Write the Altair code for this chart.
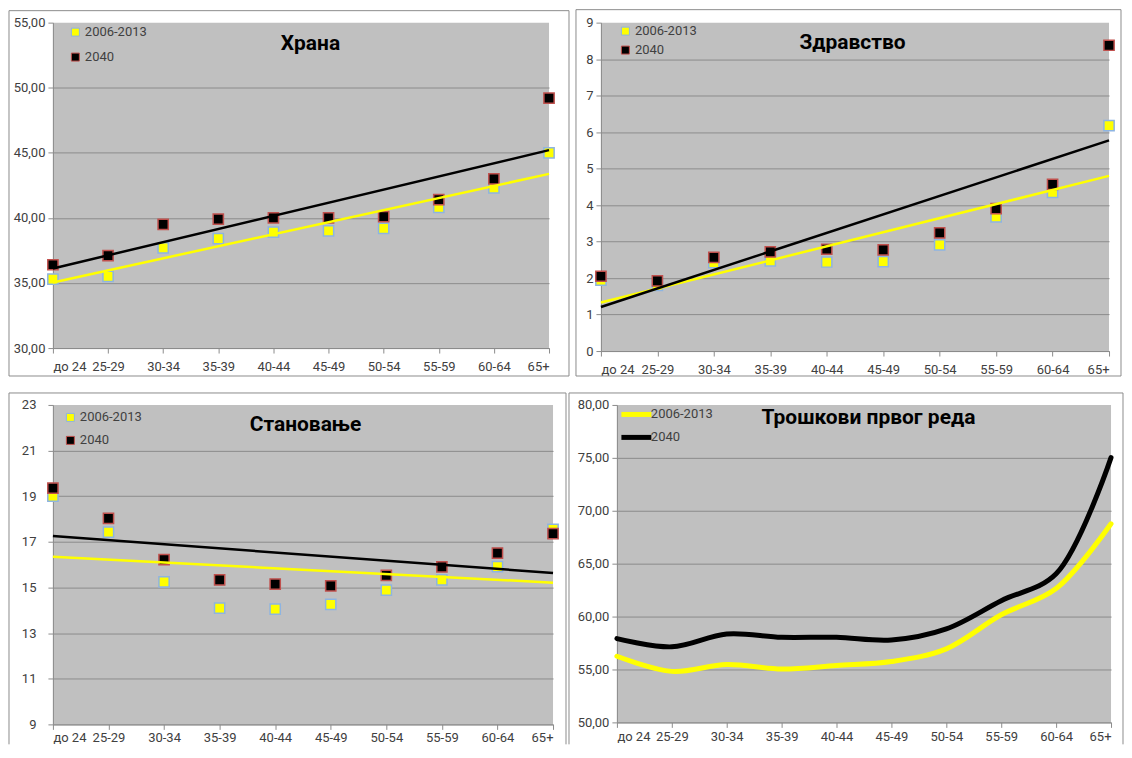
import json
import altair as alt
import pandas as pd

# ---------------- data ----------------
ages = ["до 24", "25-29", "30-34", "35-39", "40-44", "45-49", "50-54", "55-59", "60-64", "65+"]
series_names = ["2006-2013", "2040"]

hrana_2013 = [35.3, 35.5, 37.7, 38.4, 38.9, 39.0, 39.2, 40.8, 42.3, 45.0]
hrana_2040 = [36.4, 37.1, 39.5, 39.9, 40.0, 40.0, 40.1, 41.4, 43.0, 49.2]

zdr_2013 = [1.94, 1.80, 2.42, 2.47, 2.44, 2.45, 2.91, 3.68, 4.35, 6.18]
zdr_2040 = [2.05, 1.92, 2.57, 2.72, 2.79, 2.77, 3.24, 3.90, 4.57, 8.38]

stan_2013 = [19.00, 17.43, 15.25, 14.10, 14.05, 14.26, 14.88, 15.33, 15.91, 17.55]
stan_2040 = [19.35, 18.03, 16.22, 15.33, 15.15, 15.07, 15.53, 15.90, 16.51, 17.36]

tros_2013 = [56.25, 54.82, 55.47, 55.04, 55.38, 55.75, 56.95, 60.17, 62.65, 68.77]
tros_2040 = [57.92, 57.14, 58.35, 58.04, 58.04, 57.79, 58.84, 61.50, 64.04, 75.02]

titles = ["Храна", "Здравство", "Становање", "Трошкови првог реда"]

# ---------------- style ----------------
FONT = "Roboto"
YELLOW = "#FFFF00"
BLACK = "#000000"
FRAME = "#8C8C8C"
TEXT = "#404040"

x_label_expr = json.dumps(ages, ensure_ascii=False) + "[datum.value]"
comma_expr = "replace(format(datum.value, '.2f'), '.', ',')"


def make_df(a, b):
    rows = []
    for name, vals in zip(series_names, (a, b)):
        for i, v in enumerate(vals):
            rows.append({"idx": i, "age": ages[i], "series": name, "value": v})
    return pd.DataFrame(rows)


def axes(ydomain, yticks, ylabel_expr, label_pad_x=7, label_pad_y=3):
    x = alt.X("idx:Q",
              scale=alt.Scale(domain=[0, 9], nice=False, zero=False),
              axis=alt.Axis(values=list(range(10)), labelExpr=x_label_expr, title=None,
                            grid=False, labelPadding=label_pad_x))
    y = alt.Y("value:Q",
              scale=alt.Scale(domain=ydomain, nice=False, zero=False),
              axis=alt.Axis(values=yticks, labelExpr=ylabel_expr, title=None, grid=True,
                            labelPadding=label_pad_y,
                            gridOpacity={"condition": {"test": f"datum.value >= {ydomain[1]}", "value": 0},
                                         "value": 1}))
    return x, y


def frame_layers(x1, x2, y1, y2, bottom=True):
    src = alt.Data(values=[{"f": 1}])
    segs = [(x1, x2, y1, y1), (x1, x1, y1, y2), (x2, x2, y1, y2)]
    if bottom:
        segs.append((x1, x2, y2, y2))
    out = []
    for a, b, c, d in segs:
        out.append(alt.Chart(src).mark_rule(stroke=FRAME, strokeWidth=1, clip=False).encode(
            x=alt.value(a), x2=alt.value(b), y=alt.value(c), y2=alt.value(d)))
    return out


def title_layer(text, tx, ty):
    return alt.Chart(alt.Data(values=[{"t": text}])).mark_text(
        font=FONT, fontSize=21, fontWeight="bold", color=BLACK, align="center", baseline="middle"
    ).encode(x=alt.value(tx), y=alt.value(ty), text="t:N")


def scatter_panel(title, a, b, w, h, ydomain, yticks, ylabel_expr, frame, tpos, lpos, rowpad,
                  lpad=7, ypad=3, bottom=True):
    df = make_df(a, b)
    base = alt.Chart(df)
    x, y = axes(ydomain, yticks, ylabel_expr, lpad, ypad)
    leg = alt.Legend(orient="none", legendX=lpos[0], legendY=lpos[1], title=None,
                     symbolType="square", symbolSize=64, symbolStrokeWidth=1,
                     rowPadding=rowpad, labelOffset=3, labelFont=FONT, labelFontSize=13,
                     labelColor=TEXT, padding=0)
    points = base.mark_square(filled=True, size=105, strokeWidth=1.5, opacity=1).encode(
        x=x, y=y,
        color=alt.Color("series:N", scale=alt.Scale(domain=series_names, range=[YELLOW, BLACK]), legend=leg),
        stroke=alt.Stroke("series:N", scale=alt.Scale(domain=series_names, range=["#8DB4E2", "#C0504D"]),
                          legend=leg),
    )
    trends = []
    for name, col in zip(series_names, (YELLOW, BLACK)):
        trends.append(
            base.transform_filter(alt.datum.series == name)
            .transform_regression("idx", "value", extent=[0, 9])
            .mark_line(color=col, strokeWidth=2.5)
            .encode(x=x, y=y)
        )
    return alt.layer(*frame_layers(*frame, bottom=bottom), points, *trends,
                     title_layer(title, *tpos)).properties(width=w, height=h)


def line_panel(title, a, b, w, h, frame, tpos, lpos, rowpad, lpad=3, bottom=False):
    df = make_df(a, b)
    x, y = axes([50, 80], [50, 55, 60, 65, 70, 75, 80], comma_expr, lpad)
    leg = alt.Legend(orient="none", legendX=lpos[0], legendY=lpos[1], title=None,
                     symbolType="M-3,0H3", symbolSize=100, symbolStrokeWidth=5,
                     rowPadding=rowpad, labelOffset=7, labelFont=FONT, labelFontSize=13,
                     labelColor=TEXT, padding=0)
    lines = alt.Chart(df).mark_line(interpolate="catmull-rom", strokeWidth=5, strokeCap="round").encode(
        x=x, y=y,
        color=alt.Color("series:N", scale=alt.Scale(domain=series_names, range=[YELLOW, BLACK]), legend=leg),
    )
    return alt.layer(*frame_layers(*frame, bottom=bottom), lines,
                     title_layer(title, *tpos)).properties(width=w, height=h)


# panel geometry (plot areas)
W1, H1 = 497, 326
W2, H2 = 509, 329
W3, H3 = 501, 320
W4, H4 = 495, 318

p1 = scatter_panel(titles[0], hrana_2013, hrana_2040, W1, H1, [30, 55], [30, 35, 40, 45, 50, 55], comma_expr,
                   (-44, W1 + 20, -12, H1 + 28), (258, 21.5), (16, 3), 11)
p2 = scatter_panel(titles[1], zdr_2013, zdr_2040, W2, H2, [0, 9], list(range(10)), "format(datum.value, 'd')",
                   (-25, W2 + 12, -13, H2 + 25), (252, 20.5), (18, 2), 5)
p3 = scatter_panel(titles[2], stan_2013, stan_2040, W3, H3, [9, 23], [9, 11, 13, 15, 17, 19, 21, 23],
                   "format(datum.value, 'd')",
                   (-44, W3 + 13, -12, H3 + 20), (253, 20), (11, 6), 9, lpad=2, ypad=12, bottom=False)
p4 = line_panel(titles[3], tros_2013, tros_2040, W4, H4,
                (-48, W4 + 12, -12, H4 + 22), (252, 13), (12, 2), 2)

ind = dict(color="independent", stroke="independent")
row1 = alt.hconcat(p1, p2, spacing=5).resolve_scale(**ind).resolve_legend(**ind)
row2 = alt.hconcat(p3, p4, spacing=1).resolve_scale(**ind).resolve_legend(**ind)

chart = alt.vconcat(row1, row2, spacing=15).resolve_scale(**ind).resolve_legend(**ind).properties(
    padding=0
).configure_view(
    fill="#C0C0C0", stroke=None
).configure_axis(
    labelFont=FONT, labelFontSize=13, labelColor=TEXT,
    tickColor=FRAME, tickSize=5, domainColor=FRAME, domainWidth=1,
    gridColor="#8C8C8C", gridWidth=1, labelPadding=3,
)

chart.save("out.html", embed_options={"renderer": "svg", "actions": False})
